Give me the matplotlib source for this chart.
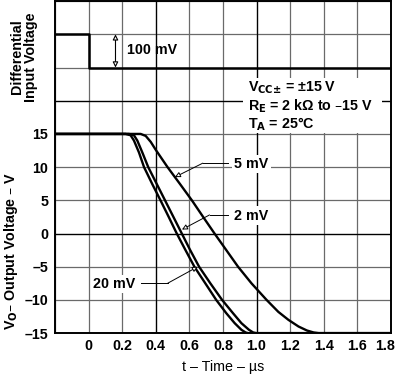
import matplotlib
matplotlib.use("Agg")
import matplotlib.pyplot as plt
import matplotlib.transforms as mtransforms
from matplotlib.patches import Rectangle

plt.rcParams["font.family"] = ["Liberation Sans", "DejaVu Sans"]
plt.rcParams["font.weight"] = "bold"
plt.rcParams["mathtext.default"] = "bf"

# input step (differential input voltage trace, drawn in upper graticule)
step_t = [-0.2, 0.0, 0.0, 1.8]
step_v = [30, 30, 25, 25]

# output responses
t_20mv = [-0.2, 0.22, 0.25, 0.27, 0.30, 0.33, 0.38, 0.428, 0.477, 0.525, 0.577, 0.63,
          0.695, 0.76, 0.82, 0.87, 0.91, 0.935, 0.95, 1.8]
v_20mv = [15, 15, 14.8, 14.0, 12.2, 10, 7.4, 5, 2.5, 0, -2.5, -5,
          -7.5, -10, -12.0, -13.5, -14.5, -14.9, -15, -15]

t_2mv = [-0.2, 0.24, 0.27, 0.29, 0.32, 0.355, 0.405, 0.455, 0.505, 0.555, 0.605, 0.658,
         0.725, 0.795, 0.86, 0.91, 0.955, 0.98, 1.0, 1.8]
v_2mv = [15, 15, 14.8, 14.0, 12.2, 10, 7.5, 5, 2.5, 0, -2.5, -5,
         -7.5, -10, -12.0, -13.5, -14.5, -14.9, -15, -15]

t_5mv = [-0.2, 0.31, 0.34, 0.37, 0.40, 0.47, 0.543, 0.615, 0.682, 0.75, 0.82, 0.89,
         0.97, 1.06, 1.13, 1.19, 1.25, 1.30, 1.34, 1.37, 1.8]
v_5mv = [15, 15, 14.7, 13.8, 12.6, 10, 7.5, 5, 2.5, 0, -2.5, -5,
         -7.5, -10, -11.8, -13.0, -14.0, -14.6, -14.9, -15, -15]

x_ticks = [0, 0.2, 0.4, 0.6, 0.8, 1.0, 1.2, 1.4, 1.6, 1.8]
y_ticks = [-15, -10, -5, 0, 5, 10, 15]

fs = 10.3

fig = plt.figure(figsize=(3.96, 3.76), dpi=100)
ax = fig.add_axes([0.139, 0.114, 0.848, 0.883])
ax.set_xlim(-0.2, 1.8)
ax.set_ylim(-15, 35)

# graticule
for gx in [-0.2 + 0.2 * i for i in range(11)]:
    ax.axvline(gx, color="#6a6a6a", lw=0.9, zorder=1)
for gy in range(-15, 36, 5):
    ax.axhline(gy, color="#6a6a6a", lw=0.9, zorder=1)
for gx in [0.4, 1.0]:
    ax.axvline(gx, color="black", lw=0.9, zorder=1.1)
for gy in [0, 20]:
    ax.axhline(gy, color="black", lw=0.9, zorder=1.1)

ax.set_xticks(x_ticks)
ax.set_xticklabels(["0"] + ["%.1f" % x for x in x_ticks[1:]])
ax.set_yticks(y_ticks)
ax.set_yticklabels([("\u2013%d" % -y) if y < 0 else "%d" % y for y in y_ticks])
ax.tick_params(axis="x", length=0, labelsize=fs, pad=4)
ax.tick_params(axis="y", length=0, labelsize=fs, pad=5)
# nudge the last x label so it stays inside the image
last = ax.get_xticklabels()[-1]
last.set_transform(last.get_transform() +
                   mtransforms.ScaledTranslation(-4 / 72, 0, fig.dpi_scale_trans))
for sp in ax.spines.values():
    sp.set_linewidth(1.4)
    sp.set_zorder(5)

# traces
ax.plot(step_t, step_v, color="black", lw=1.8, zorder=4)
ax.plot(t_20mv, v_20mv, color="black", lw=1.7, zorder=4)
ax.plot(t_2mv, v_2mv, color="black", lw=1.7, zorder=4)
ax.plot(t_5mv, v_5mv, color="black", lw=1.7, zorder=4)

# 100 mV step marker
ax.annotate("", xy=(0.16, 25.0), xytext=(0.16, 30.0),
            arrowprops=dict(arrowstyle="<|-|>", fc="white", ec="black", lw=0.8,
                            mutation_scale=8, shrinkA=0, shrinkB=0), zorder=6)
ax.text(0.23, 27.6, "100 mV", fontsize=fs, ha="left", va="center", zorder=6)

# condition box
ax.add_patch(Rectangle((0.92, 15.2), 0.83, 8.2, fc="white", ec="none", zorder=2))
ax.text(0.95, 21.9, "V$_{CC\u00b1}$ = \u00b115 V", fontsize=fs, va="center", zorder=6)
ax.text(0.95, 19.1, "R$_E$ = 2 k\u03a9 to \u201315 V", fontsize=fs, va="center", zorder=6)
ax.text(0.95, 16.4, "T$_A$ = 25\u00b0C", fontsize=fs, va="center", zorder=6)

# curve labels with leaders
arrow_kw = dict(arrowstyle="-|>", fc="white", ec="black", lw=0.7,
                mutation_scale=8, shrinkA=0, shrinkB=0)
labels = [("5 mV", (0.97, 10.5), (0.83, 0.68, 10.6), (0.514, 8.5)),
          ("2 mV", (0.97, 2.7), (0.83, 0.72, 2.8), (0.556, 0.6)),
          ("20 mV", (0.15, -7.6), (0.31, 0.47, -7.5), (0.65, -5.0))]
for txt, (tx, ty), (x0, x1, ly), tip in labels:
    ax.text(tx, ty, txt, fontsize=fs, ha="center", va="center", zorder=6,
            bbox=dict(fc="white", ec="none", pad=1.5))
    ax.plot([x0, x1], [ly, ly], color="black", lw=0.7, zorder=5)
    ax.annotate("", xy=tip, xytext=(x1, ly), arrowprops=arrow_kw, zorder=6)

# axis titles
ax.set_xlabel("t \u2013 Time \u2013 \u00b5s", fontsize=fs, labelpad=5)
ax.text(-0.13, -2.6, "V$_O$\u2013 Output Voltage \u2013 V", rotation=90,
        fontsize=fs, ha="center", va="center", transform=ax.get_yaxis_transform())
ax.text(-0.092, 26.6, "Differential\nInput Voltage", rotation=90, fontsize=fs,
        ha="center", va="center", linespacing=1.0, transform=ax.get_yaxis_transform())

fig.savefig("out.png", dpi=100)
